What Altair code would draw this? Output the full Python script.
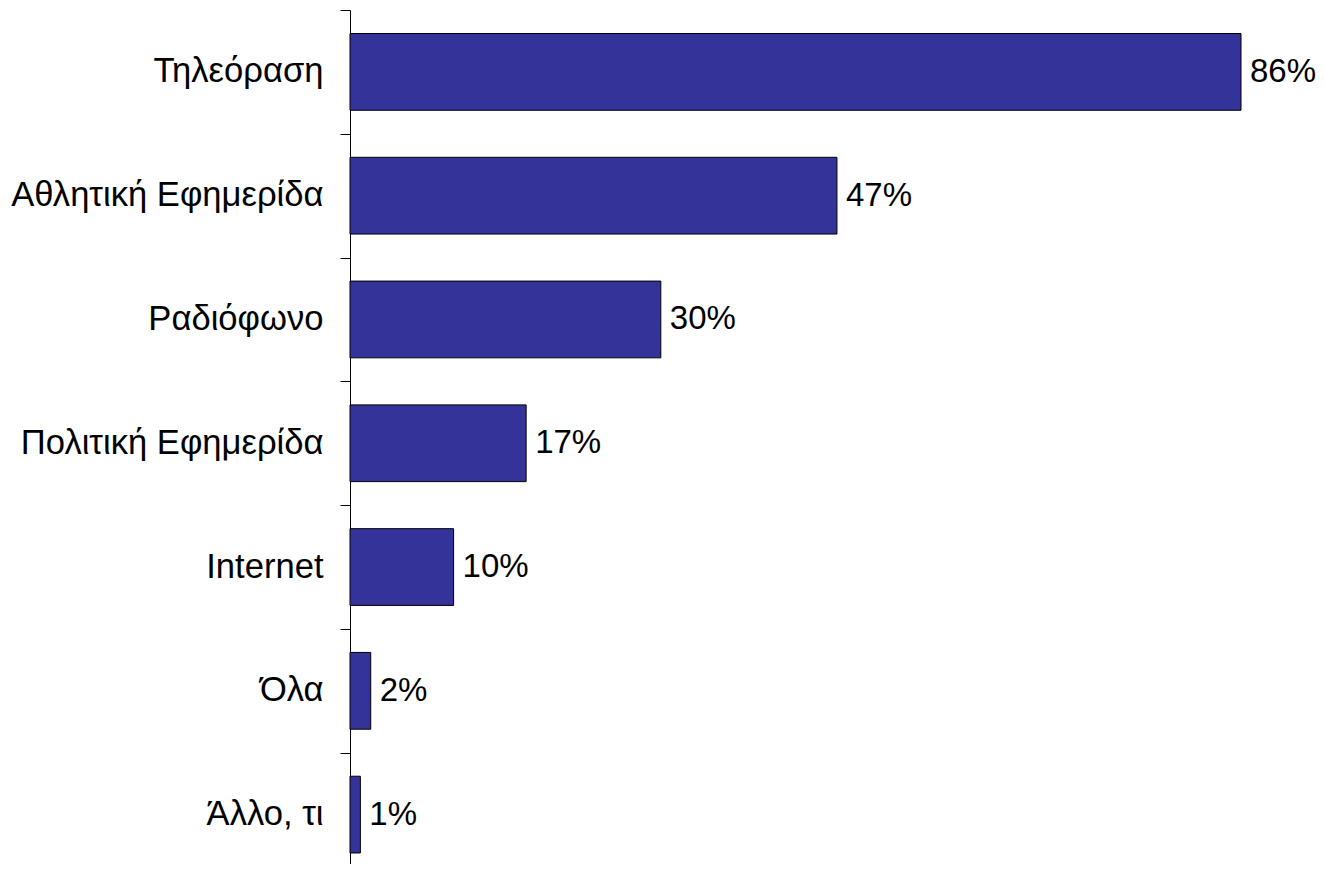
import altair as alt
import pandas as pd

categories = ["Τηλεόραση", "Αθλητική Εφημερίδα", "Ραδιόφωνο", "Πολιτική Εφημερίδα", "Internet", "Όλα", "Άλλο, τι"]
values = [86, 47, 30, 17, 10, 2, 1]
labels = ["86%", "47%", "30%", "17%", "10%", "2%", "1%"]

df = pd.DataFrame({"cat": categories, "val": values, "lab": labels})

FONT = "Liberation Sans"

y = alt.Y("cat:N", sort=categories, title=None,
          scale=alt.Scale(paddingInner=0, paddingOuter=0),
          axis=alt.Axis(domainColor="black", domainWidth=1, tickColor="black", tickWidth=1,
                        tickSize=10, tickBand="extent", labelFont=FONT, labelFontSize=34.6,
                        labelColor="black", labelPadding=17, labelLimit=0, grid=False))
x = alt.X("val:Q", title=None, axis=None, scale=alt.Scale(domain=[0, 86], nice=False, zero=True))

bars = alt.Chart(df).mark_bar(color="#333399", stroke="black", strokeWidth=1,
                              height={"band": 0.62}).encode(x=x, y=y)
text = alt.Chart(df).mark_text(align="left", baseline="middle", dx=9, font=FONT,
                               fontSize=33, color="black").encode(x=x, y=y, text="lab:N")

chart = (bars + text).properties(
    width=891, height=866.5,
    background="white",
    autosize=alt.AutoSizeParams(type="none"),
    padding={"left": 342, "top": 2, "right": 75, "bottom": -13},
).configure_view(strokeWidth=0, stroke="transparent")

chart.save("out.html", embed_options={"renderer": "svg", "actions": False})
